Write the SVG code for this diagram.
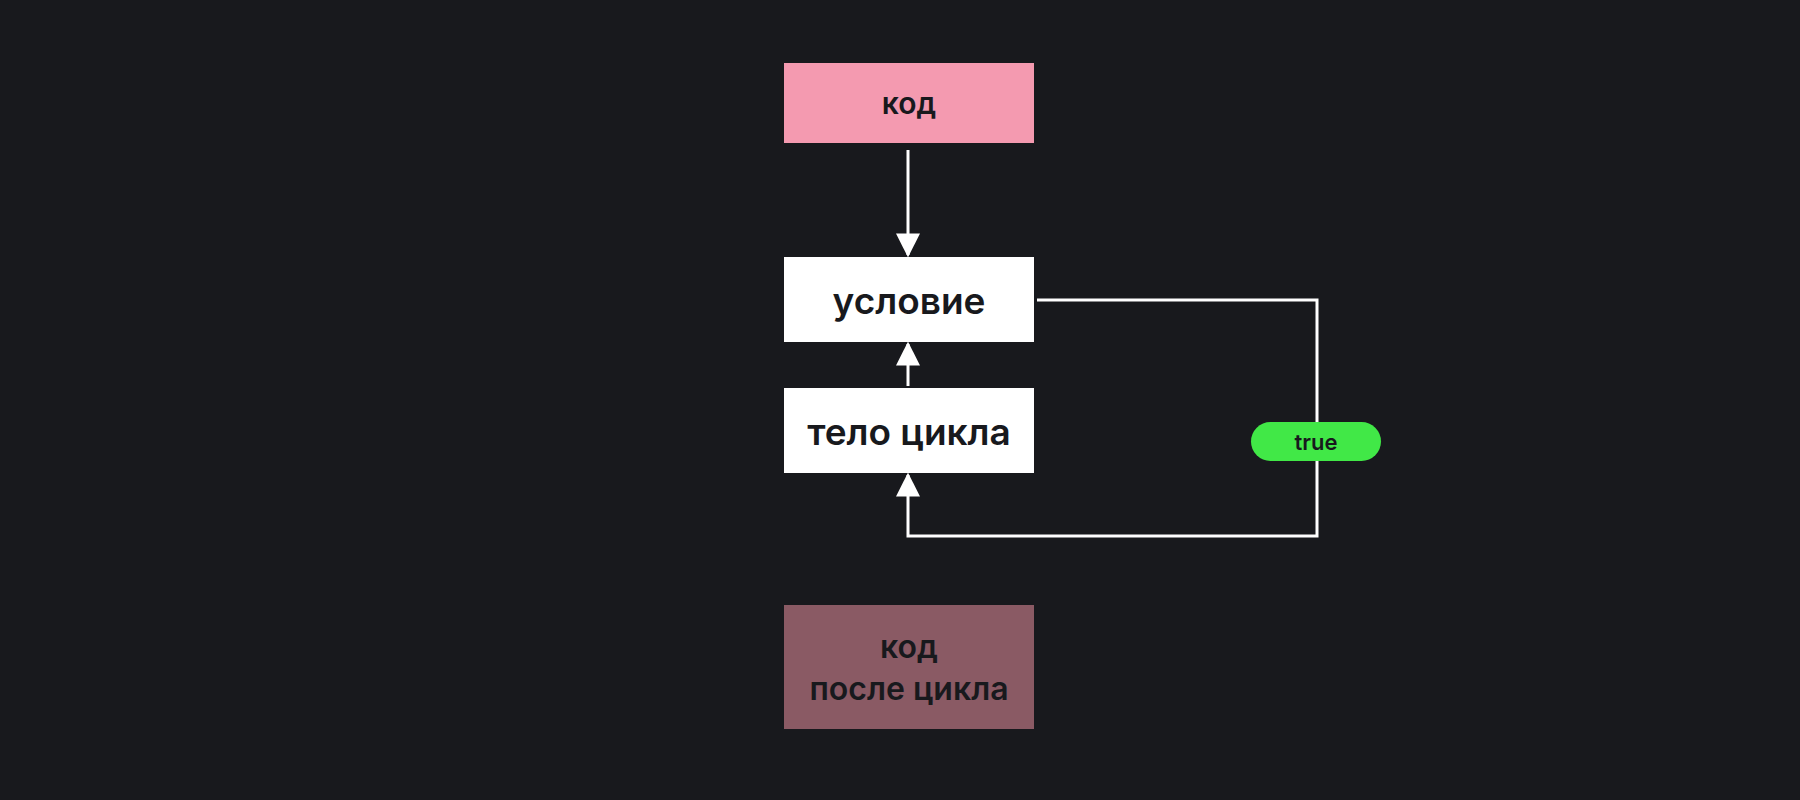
<svg xmlns="http://www.w3.org/2000/svg" width="1800" height="800" viewBox="0 0 1800 800">
<defs>
<style>
text{font-family:Inter,"Noto Sans",sans-serif;font-weight:600;text-anchor:middle;dominant-baseline:central;fill:#18191d}
.c{stroke:#fff;stroke-width:3;fill:none}
</style>
<marker id="a" viewBox="0 0 10 10" refX="9" refY="5" markerWidth="8" markerHeight="8" markerUnits="userSpaceOnUse" orient="auto"><path d="M0,0L10,5L0,10z" fill="#fff"/></marker>
<marker id="b" viewBox="0 0 10 10" refX="9" refY="5" markerWidth="24" markerHeight="24" markerUnits="userSpaceOnUse" orient="auto"><path d="M0,0L10,5L0,10z" fill="#fff"/></marker>
</defs>
<rect width="1800" height="800" fill="#18191d"/>
<g id="connectors">
<path class="c" d="M908,150V255" marker-end="url(#b)"/>
<path class="c" d="M908,386V344" marker-end="url(#b)"/>
<path class="c" d="M1037,300H1317V536H908V475" marker-end="url(#b)"/>
</g>
<g id="n1"><rect x="784" y="63" width="250" height="80" fill="#f49ab0"/><text x="909" y="103" font-size="30">код</text></g>
<g id="n2"><rect x="784" y="257" width="250" height="85" fill="#fff"/><text x="909" y="300" font-size="37">условие</text></g>
<g id="n3"><rect x="784" y="388" width="250" height="85" fill="#fff"/><text x="909" y="431" font-size="37">тело цикла</text></g>
<g id="n4"><rect x="1251" y="422" width="130" height="39" rx="19.5" fill="#41e847"/><text x="1316" y="442" font-size="22">true</text></g>
<g id="n5"><rect x="784" y="605" width="250" height="124" fill="#8a5a64"/><text x="909" y="646" font-size="32">код</text><text x="909" y="688" font-size="32">после цикла</text></g>
</svg>
